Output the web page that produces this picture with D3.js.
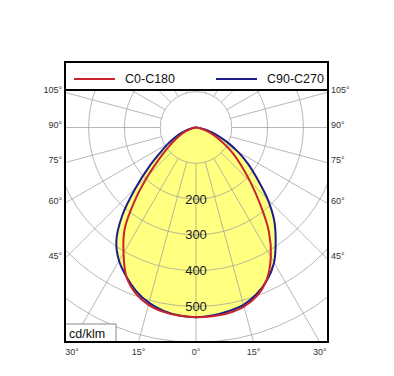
<!DOCTYPE html>
<html>
<head>
<meta charset="utf-8">
<script src="https://cdn.jsdelivr.net/npm/d3@7/dist/d3.min.js"></script>
<style>
  html, body { margin: 0; padding: 0; background: #fff; }
  svg { display: block; font-family: "Liberation Sans", Arial, sans-serif; }
</style>
</head>
<body>
<svg id="chart" width="394" height="376"></svg>
<script>
// ---- data (cd/klm), gamma angles in degrees from nadir ----
const gammas = [0, 5, 10, 15, 20, 25, 30, 35, 40, 45, 50, 55, 60, 65, 70, 75, 80, 85, 90];
const c0     = [530, 529, 526, 518, 500, 468, 418, 355, 278, 214, 165, 126, 90, 62, 40, 22, 9, 2, 0];   // C0 (right half, red)
const c180   = [530, 528, 523, 513, 493, 460, 405, 348, 265, 188, 130, 92, 66, 46, 30, 17, 7, 2, 0];   // C180 (left half, red)
const c90    = [530, 527, 521, 513, 495, 470, 436, 388, 340, 283, 224, 178, 135, 95, 62, 35, 15, 4, 0]; // C90 (right half, blue)
const c270   = [530, 527, 520, 507, 487, 460, 430, 388, 320, 238, 172, 121, 90, 64, 42, 24, 11, 3, 0];  // C270 (left half, blue)

const series = [
  { name: "C0-C180",  color: "#c8232c", left: c180, right: c0 },
  { name: "C90-C270", color: "#1c1c8a", left: c270, right: c90 }
];
const ringValues   = [100, 200, 300, 400, 500, 600, 700, 800];
const ringLabels   = [200, 300, 400, 500];
const spokeAngles  = d3.range(0, 360, 15);
const sideLabels   = [105, 90, 75, 60, 45];
const bottomLabels = [-30, -15, 0, 15, 30];
const unitLabel = "cd/klm";

// ---- layout ----
const svg = d3.select("#chart");
const frame = { x0: 65, x1: 328, y0: 62, y1: 342, legendY: 90 };
const cx = 196, cy = 127.5;
const r = d3.scaleLinear().domain([0, 100]).range([0, 35.8]);
const rad = d => d * Math.PI / 180;

svg.append("rect").attr("width", 394).attr("height", 376).attr("fill", "#fff");

svg.append("clipPath").attr("id", "plotclip")
  .append("rect").attr("x", frame.x0).attr("y", frame.legendY)
  .attr("width", frame.x1 - frame.x0).attr("height", frame.y1 - frame.legendY);

const plot = svg.append("g").attr("clip-path", "url(#plotclip)");
const g = plot.append("g").attr("transform", `translate(${cx},${cy})`);

// radial line builder: gamma measured from downward vertical
function curvePoints(s) {
  const pts = [];
  for (let i = gammas.length - 1; i >= 0; i--) pts.push([Math.PI + rad(gammas[i]), r(s.left[i])]);
  for (let i = 1; i < gammas.length; i++) pts.push([Math.PI - rad(gammas[i]), r(s.right[i])]);
  return pts;
}
const line = d3.lineRadial().angle(d => d[0]).radius(d => d[1]).curve(d3.curveCatmullRom.alpha(0.5));

// fills
series.forEach(s => {
  g.append("path").attr("d", line(curvePoints(s)) + "Z").attr("fill", "#ffff80").attr("stroke", "none");
});

// grid rings
g.selectAll("circle.ring").data(ringValues).join("circle")
  .attr("class", "ring").attr("r", d => r(d))
  .attr("fill", "none").attr("stroke", "#9a9a9a").attr("stroke-width", 0.7);

// spokes
g.selectAll("line.spoke").data(spokeAngles).join("line")
  .attr("class", "spoke")
  .attr("x1", d => r(100) * Math.sin(rad(d)))
  .attr("y1", d => r(100) * Math.cos(rad(d)))
  .attr("x2", d => r(1000) * Math.sin(rad(d)))
  .attr("y2", d => r(1000) * Math.cos(rad(d)))
  .attr("stroke", "#9a9a9a").attr("stroke-width", 0.7);

// curves
[series[1], series[0]].forEach(s => {
  g.append("path").attr("d", line(curvePoints(s)))
    .attr("fill", "none").attr("stroke", s.color).attr("stroke-width", 2);
});

// ring labels
g.selectAll("text.ringlab").data(ringLabels).join("text")
  .attr("class", "ringlab")
  .attr("x", 0).attr("y", d => r(d))
  .attr("dy", "0.35em")
  .attr("text-anchor", "middle")
  .attr("font-size", 13).attr("fill", "#1a1a1a")
  .text(d => d);

// frame
svg.append("line").attr("x1", frame.x0).attr("x2", frame.x1)
  .attr("y1", frame.legendY).attr("y2", frame.legendY)
  .attr("stroke", "#000").attr("stroke-width", 2);

// legend
const legendPos = [{ x: 74, tx: 125 }, { x: 216, tx: 267 }];
series.forEach((s, i) => {
  const p = legendPos[i];
  svg.append("line").attr("x1", p.x).attr("x2", p.x + 41).attr("y1", 79).attr("y2", 79)
    .attr("stroke", s.color).attr("stroke-width", 2);
  svg.append("text").attr("x", p.tx).attr("y", 79).attr("dy", "0.35em")
    .attr("font-size", 12.5).attr("fill", "#111").text(s.name);
});

// side angle labels
const dxEdge = cx - frame.x0;
sideLabels.forEach(a => {
  const y = cy + dxEdge / Math.tan(rad(a));
  svg.append("text").attr("x", frame.x0 - 3).attr("y", y + 0.5)
    .attr("text-anchor", "end").attr("font-size", 9).attr("fill", "#333").text(a + "°");
  svg.append("text").attr("x", frame.x1 + 3).attr("y", y + 0.5)
    .attr("text-anchor", "start").attr("font-size", 9).attr("fill", "#333").text(a + "°");
});

// bottom angle labels
const dyEdge = frame.y1 - cy;
bottomLabels.forEach(a => {
  const x = cx + dyEdge * Math.tan(rad(a));
  svg.append("text").attr("x", x).attr("y", 354.5)
    .attr("text-anchor", "middle").attr("font-size", 9).attr("fill", "#333").text(Math.abs(a) + "°");
});

// unit box
svg.append("rect").attr("x", frame.x0).attr("y", 324).attr("width", 51).attr("height", 18)
  .attr("fill", "#fff").attr("stroke", "#888").attr("stroke-width", 1);
svg.append("rect").attr("x", frame.x0).attr("y", frame.y0)
  .attr("width", frame.x1 - frame.x0).attr("height", frame.y1 - frame.y0)
  .attr("fill", "none").attr("stroke", "#000").attr("stroke-width", 2);
svg.append("text").attr("x", 69).attr("y", 337.5).attr("font-size", 12.5).attr("fill", "#111").text(unitLabel);
</script>
</body>
</html>
